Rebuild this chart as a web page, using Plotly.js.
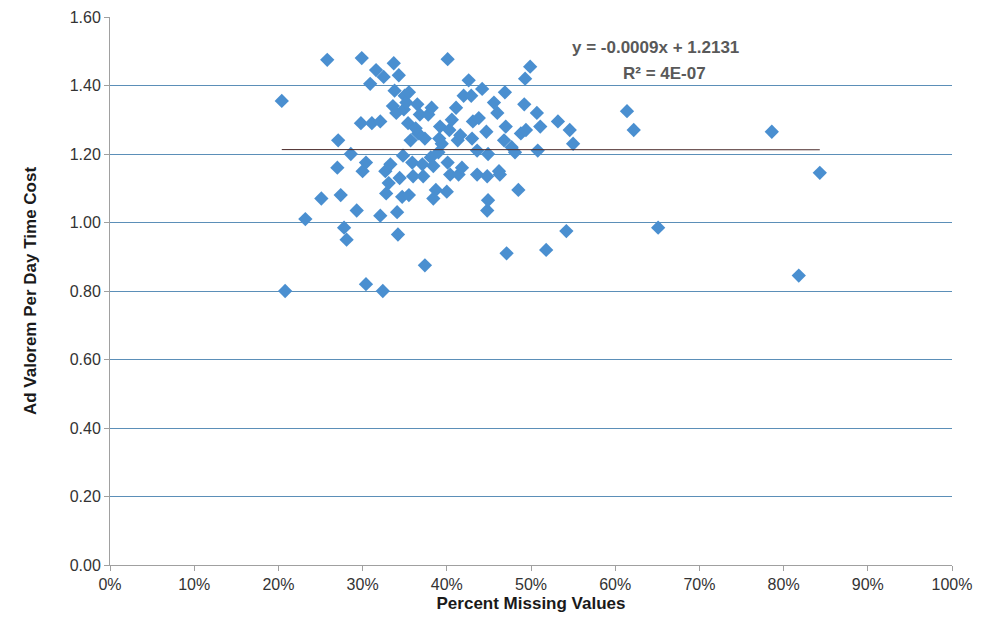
<!DOCTYPE html>
<html>
<head>
<meta charset="utf-8">
<script src="https://cdn.plot.ly/plotly-3.0.1.min.js"></script>
<style>html,body{margin:0;padding:0;background:#fff}#chart{width:984px;height:629px}</style>
</head>
<body>
<div id="chart"></div>
<script>
// percent missing values (%), ad valorem per day time cost
const pctMissing = [20.4,20.8,23.2,25.1,25.8,27.1,27.0,27.4,27.8,28.1,28.6,29.3,29.8,29.9,30.0,30.4,30.4,30.9,31.1,31.6,
  32.1,32.1,32.4,32.5,32.7,32.8,33.3,33.1,33.6,33.7,33.8,34.0,34.1,34.2,34.3,34.4,34.7,34.8,34.9,35.0,
  35.2,35.4,35.5,35.7,35.9,36.0,35.5,37.4,37.2,37.1,36.6,36.5,36.8,36.3,37.4,37.8,38.1,38.2,38.4,38.7,
  39.0,39.1,39.2,39.4,38.4,40.1,40.1,40.3,40.4,40.6,41.1,41.3,41.4,42.0,41.8,41.6,42.6,42.9,43.0,43.1,
  43.6,43.6,43.8,44.2,44.7,44.9,44.8,44.8,44.9,45.6,46.0,46.2,46.3,46.8,46.9,47.0,47.1,47.7,48.1,48.5,
  48.8,49.2,49.3,49.4,49.9,50.7,51.1,51.8,50.8,53.2,54.2,54.6,55.0,61.4,62.2,65.1,78.6,81.8,84.3,40.0];
const timeCost = [1.355,0.80,1.01,1.07,1.475,1.24,1.16,1.08,0.985,0.95,1.20,1.035,1.29,1.48,1.15,1.175,0.82,1.405,1.29,1.445,
  1.295,1.02,0.80,1.425,1.15,1.085,1.17,1.115,1.34,1.465,1.385,1.32,1.03,0.965,1.43,1.13,1.075,1.195,1.33,1.37,
  1.35,1.29,1.38,1.24,1.175,1.135,1.08,1.245,1.135,1.17,1.26,1.345,1.315,1.275,0.875,1.315,1.19,1.335,1.165,1.095,
  1.205,1.245,1.28,1.23,1.07,1.477,1.175,1.27,1.14,1.30,1.335,1.24,1.14,1.37,1.16,1.255,1.415,1.37,1.245,1.295,
  1.21,1.14,1.305,1.39,1.265,1.20,1.135,1.035,1.065,1.35,1.32,1.15,1.14,1.24,1.38,1.28,0.91,1.22,1.205,1.095,
  1.26,1.345,1.42,1.27,1.455,1.32,1.28,0.92,1.21,1.295,0.975,1.27,1.23,1.325,1.27,0.985,1.265,0.845,1.145,1.09];
const slope = -0.0009, intercept = 1.2131;

const xs = pctMissing.map(v => v / 100);
const xMin = Math.min(...xs), xMax = Math.max(...xs);

const data = [
  {
    x: xs, y: timeCost, type: 'scatter', mode: 'markers',
    marker: {symbol: 'diamond', size: 11, color: '#4a8fd0'},
    hoverinfo: 'none'
  },
  {
    x: [xMin, xMax], y: [slope * xMin + intercept, slope * xMax + intercept],
    type: 'scatter', mode: 'lines',
    line: {color: '#4a2a2a', width: 1}
  }
];

const layout = {
  width: 984, height: 629,
  margin: {l: 110, r: 32, t: 17, b: 64},
  showlegend: false,
  paper_bgcolor: '#fff', plot_bgcolor: '#fff',
  font: {family: 'Liberation Sans, Arial, sans-serif', size: 16, color: '#333'},
  xaxis: {
    range: [0, 1], tickvals: [0,0.1,0.2,0.3,0.4,0.5,0.6,0.7,0.8,0.9,1], tickformat: '.0%',
    showgrid: false, zeroline: false, showline: true, linecolor: '#a0a0a0', mirror: false,
    ticks: 'outside', ticklen: 5, tickcolor: '#a0a0a0',
    title: {text: '<b>Percent Missing Values</b>', font: {size: 17, color: '#1a1a1a'}, standoff: 4}
  },
  yaxis: {
    range: [0, 1.6], dtick: 0.2, tickformat: '.2f',
    showgrid: true, gridcolor: '#5b8fb8', gridwidth: 1, zeroline: false,
    showline: true, linecolor: '#a0a0a0', ticks: 'outside', ticklen: 5, tickcolor: '#a0a0a0',
    title: {text: '<b>Ad Valorem Per Day Time Cost</b>', font: {size: 17, color: '#1a1a1a'}, standoff: 28}
  },
  annotations: [
    {xref: 'paper', yref: 'paper', x: 0.648, y: 0.965, showarrow: false,
     text: '<b>y = -0.0009x + 1.2131</b>', font: {size: 17, color: '#595959'}},
    {xref: 'paper', yref: 'paper', x: 0.658, y: 0.918, showarrow: false,
     text: '<b>R² = 4E-07</b>', font: {size: 17, color: '#595959'}}
  ]
};

Plotly.newPlot('chart', data, layout, {displayModeBar: false, staticPlot: true});
</script>
</body>
</html>
